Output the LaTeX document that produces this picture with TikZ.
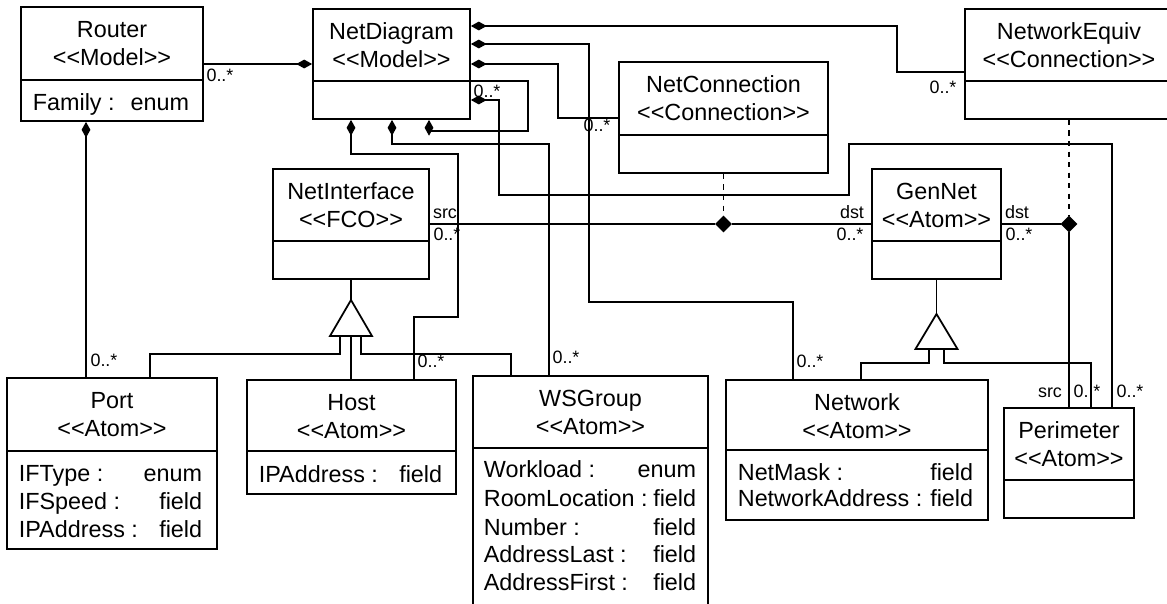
\documentclass[tikz,border=0pt]{standalone}
\usepackage{fontspec}
\setmainfont{Liberation Sans}
\usetikzlibrary{arrows.meta, fit, shapes.geometric}

% class box: name, x1, y1, x2, y2, separator y, title, stereotype
\newcommand{\umlclass}[8]{%
  \node[classbox, fit={(#2,#3) (#4,#5)}] (#1) {};
  \draw (#2,#6) -- (#4,#6);
  \node[titletext] (#1-title) at ({(#2+#4)/2},#3+22) {#7};
  \node[titletext] (#1-stereo) at ({(#2+#4)/2},#3+50) {<{}<#8>{}>};
}
% attribute line: name, x left, x right, y, label, type
\newcommand{\umlattr}[6]{%
  \node[titletext, anchor=west] (#1) at (#2,#4) {#5};
  \node[titletext, anchor=east] (#1-type) at (#3,#4) {#6};
}

\begin{document}
\begin{tikzpicture}[x=0.02cm, y=-0.02cm, line width=1pt,
  classbox/.style={draw, inner sep=0pt},
  titletext/.style={inner sep=0pt, text height=9.6pt, text depth=0pt, font=\fontsize{13.3}{16}\selectfont},
  mult/.style={inner sep=0pt, text height=7.3pt, text depth=0pt, font=\fontsize{10.2}{12}\selectfont},
  comp/.style={arrows={Diamond[length=9pt,width=5pt]-}},
  joindot/.style={diamond, draw, fill, inner sep=0pt, minimum size=0.3cm},
  link/.style={dash pattern=on 3pt off 3pt}]
\useasboundingbox (0,0) rectangle (1167,603);
\clip (0,0) rectangle (1167,603);

% Models and connections
\umlclass{router}{21}{7}{203}{121}{80}{Router}{Model}
\umlattr{router-a1}{32}{190}{102}{Family :}{enum}
\umlclass{netdiag}{313}{9}{470}{119}{81}{NetDiagram}{Model}
\umlclass{netconn}{619}{62}{828}{173}{135}{NetConnection}{Connection}
\umlclass{neteq}{965}{9}{1173}{119}{81}{NetworkEquiv}{Connection}

% FCO and abstract atom
\umlclass{netif}{273}{169}{429}{279}{241}{NetInterface}{FCO}
\umlclass{gennet}{872}{169}{1001}{279}{241}{GenNet}{Atom}

% Atoms
\umlclass{port}{7}{378}{217}{549}{451}{Port}{Atom}
\umlattr{port-a1}{18}{203}{473}{IFType :}{enum}
\umlattr{port-a2}{18}{203}{501}{IFSpeed :}{field}
\umlattr{port-a3}{18}{203}{529}{IPAddress :}{field}
\umlclass{host}{247}{380}{456}{494}{451}{Host}{Atom}
\umlattr{host-a1}{258}{443}{474}{IPAddress :}{field}
\umlclass{wsgroup}{473}{376}{708}{612}{448}{WSGroup}{Atom}
\umlattr{ws-a1}{483}{697}{469}{Workload :}{enum}
\umlattr{ws-a2}{483}{697}{498}{RoomLocation :}{field}
\umlattr{ws-a3}{483}{697}{527}{Number :}{field}
\umlattr{ws-a4}{483}{697}{554}{AddressLast :}{field}
\umlattr{ws-a5}{483}{697}{582}{AddressFirst :}{field}
\umlclass{network}{726}{380}{988}{520}{450}{Network}{Atom}
\umlattr{nw-a1}{737}{974}{472}{NetMask :}{field}
\umlattr{nw-a2}{737}{974}{498}{NetworkAddress :}{field}
\umlclass{perim}{1004}{408}{1134}{518}{480}{Perimeter}{Atom}

% Containment
\draw[comp] (netdiag.west |- 0,64) -- (router.east |- 0,64);
\draw[comp] (router.south -| 86,0) -- (port.north -| 86,0);
\draw[comp] (netdiag.east |- 0,26) -- (897,26) -- (897,72) -- (neteq.west |- 0,72);
\draw[comp] (netdiag.east |- 0,44) -- (589,44) -- (589,302) -- (793,302) -- (network.north -| 793,0);
\draw[comp] (netdiag.east |- 0,64) -- (558,64) -- (558,118) -- (netconn.west |- 0,118);
\draw[comp] (netdiag.east |- 0,100) -- (499,100) -- (499,195) -- (849,195) -- (849,144) -- (1112,144) -- (perim.north -| 1112,0);
\draw[comp] (netdiag.south -| 429,0) -- (429,131) -- (528,131) -- (528,81) -- (netdiag.east |- 0,81);
\draw[comp] (netdiag.south -| 351,0) -- (351,154) -- (458,154) -- (458,317) -- (414,317) -- (host.north -| 414,0);
\draw[comp] (netdiag.south -| 392,0) -- (392,144) -- (549,144) -- (wsgroup.north -| 549,0);

% Connections src -> dst
\node[joindot] (ncjoin) at (netconn.south |- 0,224) {};
\draw (netif.east) -- (ncjoin) -- (gennet.west);
\draw[link] (netconn.south) -- (ncjoin);
\node[joindot] (nejoin) at (neteq.south |- 0,224) {};
\draw (gennet.east) -- (nejoin) -- (perim.north -| nejoin);
\draw[link] (neteq.south) -- (nejoin);

% Inheritance
\coordinate (niTip) at (netif.south |- 0,300);
\coordinate (niBase) at (netif.south |- 0,336);
\draw (netif.south) -- (niTip);
\draw (niTip) -- ++(-21,36) -- ++(42,0) -- cycle;
\draw (niBase -| 340,0) -- (340,354) -- (150,354) -- (port.north -| 150,0);
\draw (niBase) -- (host.north -| niBase);
\draw (niBase -| 361,0) -- (361,354) -- (511,354) -- (wsgroup.north -| 511,0);
\coordinate (gnTip) at (gennet.south |- 0,314);
\coordinate (gnBase) at (gennet.south |- 0,349);
\draw (gennet.south) -- (gnTip);
\draw (gnTip) -- ++(-21,35) -- ++(42,0) -- cycle;
\draw (gnBase -| 929,0) -- (929,363) -- (861,363) -- (network.north -| 861,0);
\draw (gnBase -| 944,0) -- (944,363) -- (1091,363) -- (perim.north -| 1091,0);

% Roles and multiplicities
\node[mult] (m-router) at (220,75) {0..*};
\node[mult] (m-port) at (104,360) {0..*};
\node[mult] (m-neteq) at (943,87) {0..*};
\node[mult] (m-network) at (810,361) {0..*};
\node[mult] (m-netconn) at (597,125) {0..*};
\node[mult] (m-perim) at (1130,391) {0..*};
\node[mult] (m-self) at (487,91) {0..*};
\node[mult] (m-host) at (431,361) {0..*};
\node[mult] (m-ws) at (566,357) {0..*};
\node[mult] (r-src) at (445,212) {src};
\node[mult] (m-src) at (447,234) {0..*};
\node[mult] (r-dst) at (852,212) {dst};
\node[mult] (m-dst) at (850,234) {0..*};
\node[mult] (r-dst2) at (1017,212) {dst};
\node[mult] (m-dst2) at (1019,234) {0..*};
\node[mult] (r-src2) at (1050,391) {src};
\node[mult] (m-src2) at (1087,391) {0..*};
\end{tikzpicture}
\end{document}
